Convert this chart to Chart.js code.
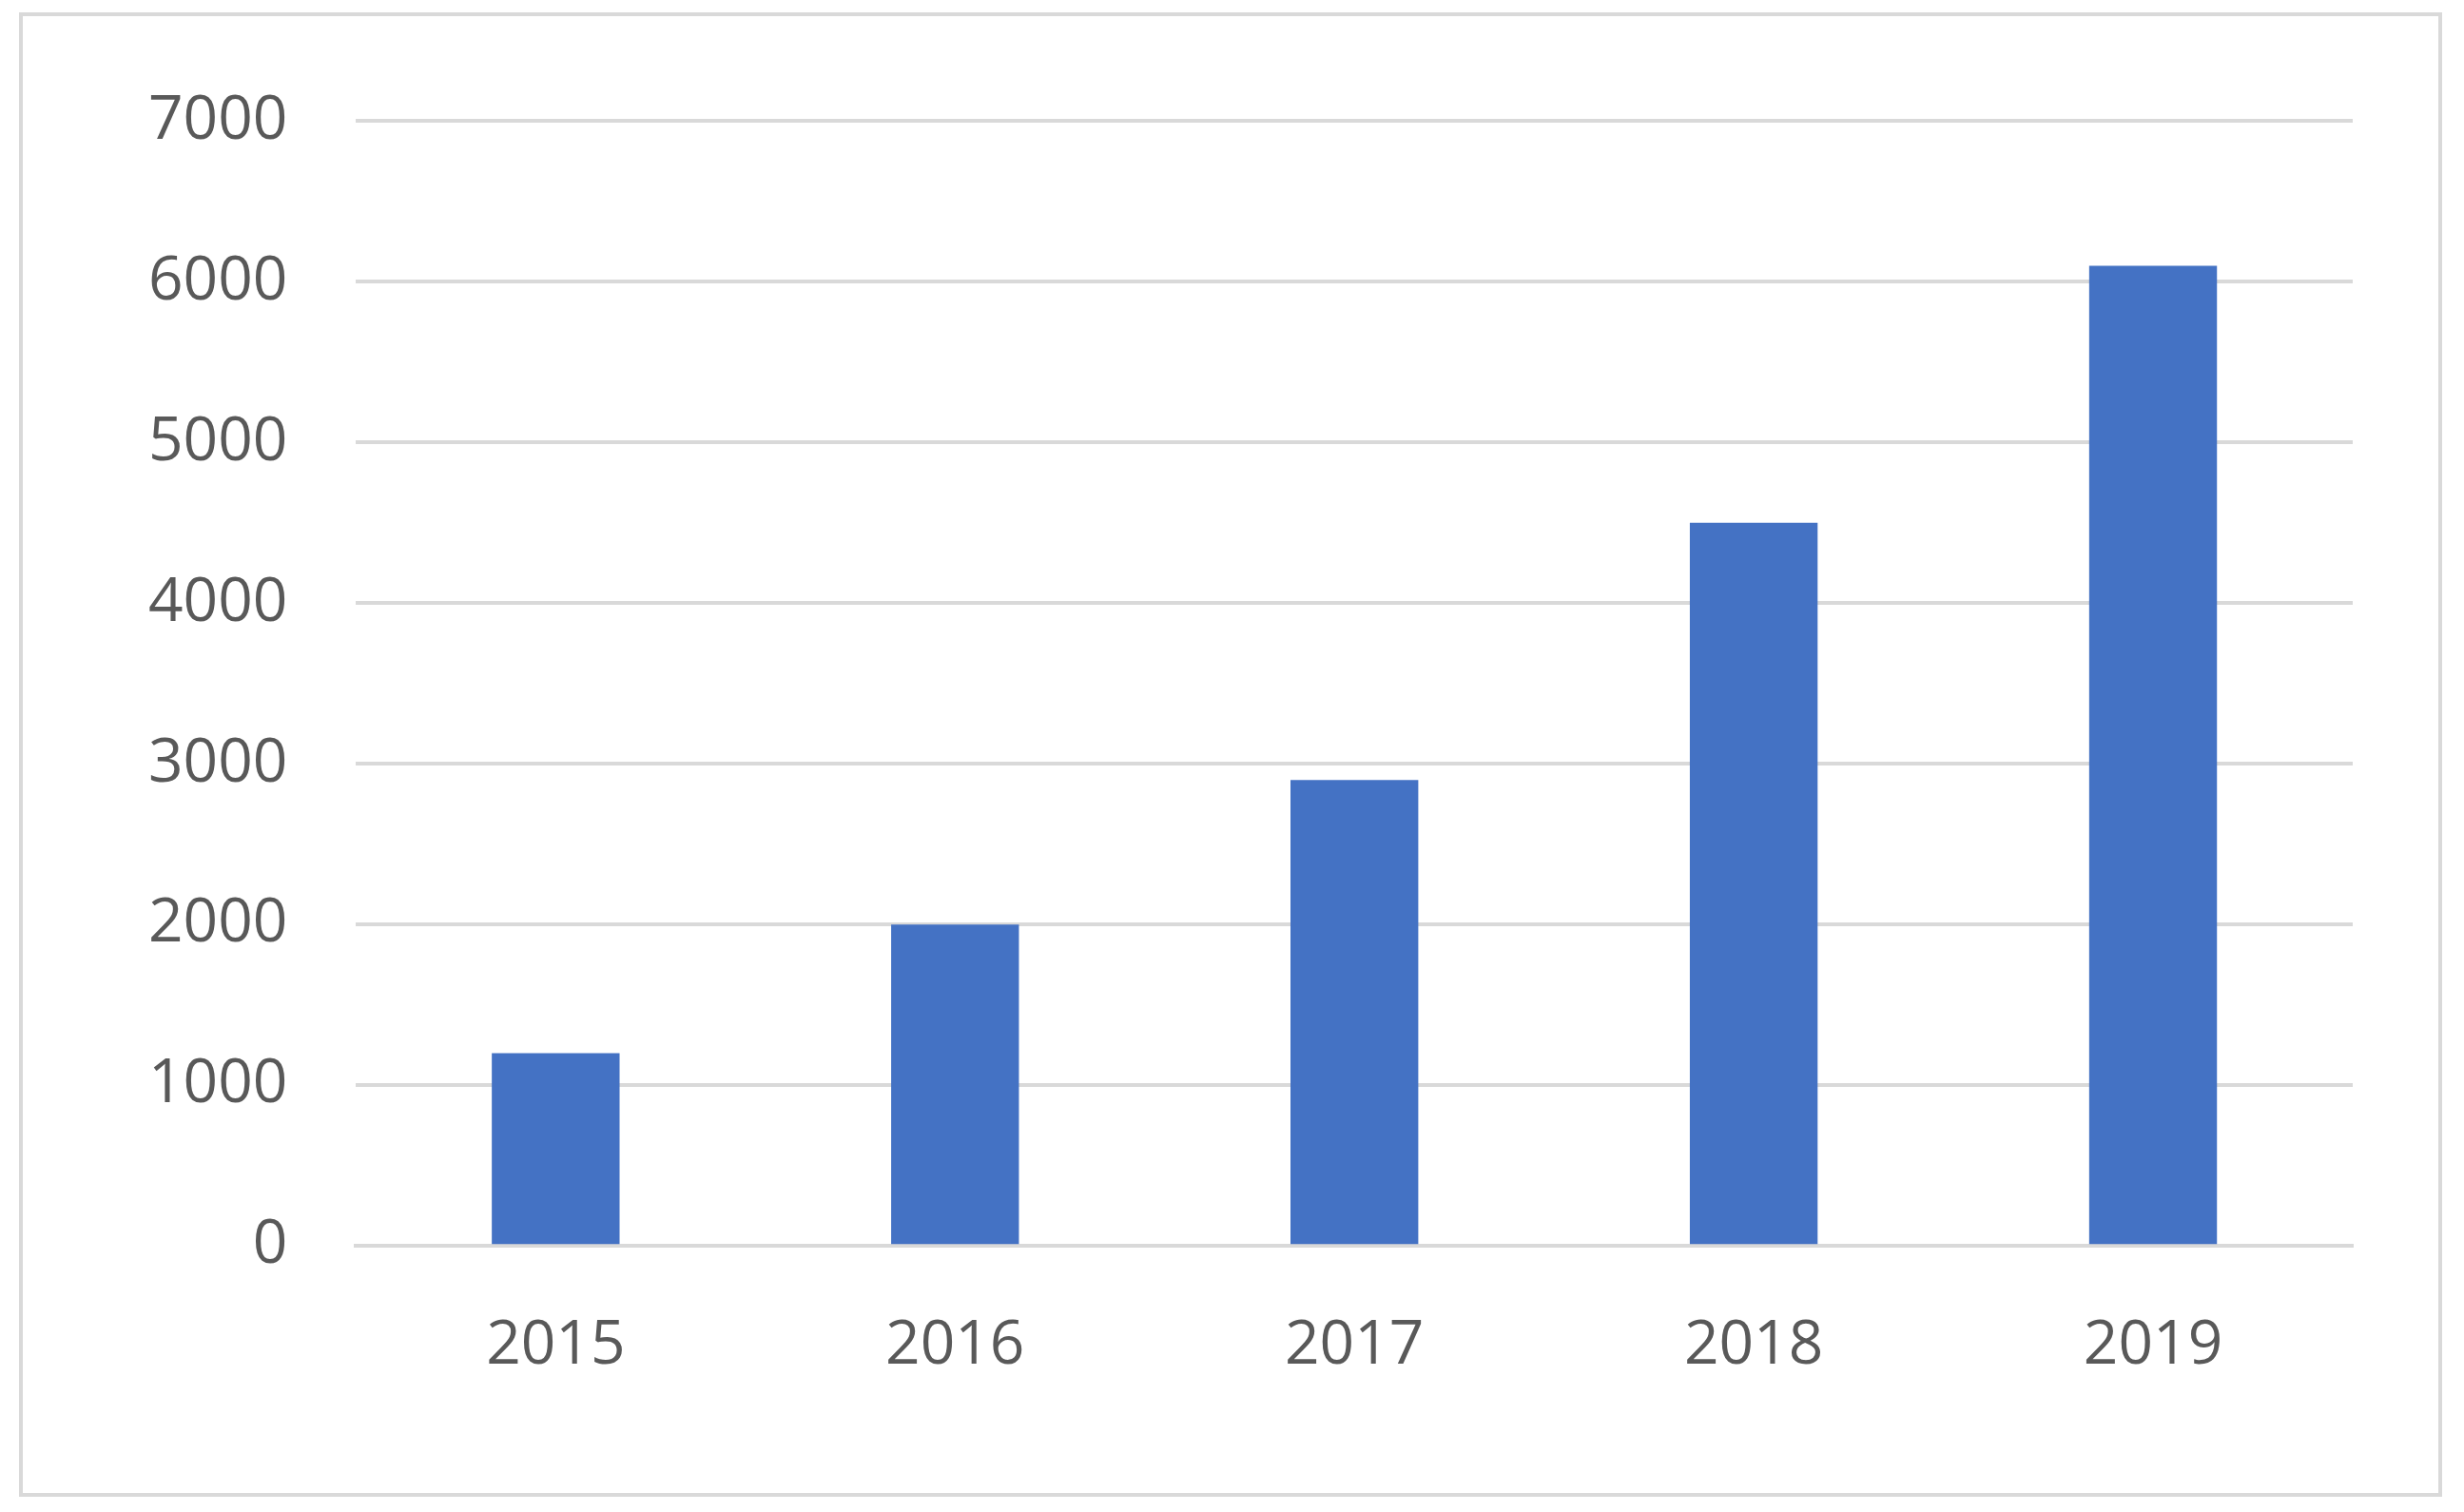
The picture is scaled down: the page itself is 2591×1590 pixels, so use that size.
<!DOCTYPE html>
<html>
<head>
<meta charset="utf-8">
<script src="https://cdn.jsdelivr.net/npm/chart.js@4/dist/chart.umd.min.js"></script>
<style>
  body { margin: 0; background: #fff; }
  #box { position: absolute; left: 20px; top: 13px; width: 2540px; height: 1553px;
         border: 4px solid #d9d9d9; box-sizing: content-box; }
  #wrap { position: absolute; left: 0; top: 0; width: 2540px; height: 1553px; }
</style>
</head>
<body>
<div id="box"><div id="wrap"><canvas id="chart"></canvas></div></div>
<script>
// years and values
var years = ['2015', '2016', '2017', '2018', '2019'];
var values = [1200, 2000, 2900, 4500, 6100];

new Chart('chart', {
  type: 'bar',
  data: {
    labels: years,
    datasets: [{
      data: values,
      backgroundColor: '#4472c4',
      categoryPercentage: 1,
      barPercentage: 0.32
    }]
  },
  options: {
    responsive: true,
    maintainAspectRatio: false,
    animation: false,
    layout: { padding: { left: 60, right: 90, top: 48, bottom: 57 } },
    plugins: { legend: { display: false }, tooltip: { enabled: false } },
    scales: {
      x: {
        grid: { display: false },
        border: { color: '#d9d9d9', width: 4 },
        ticks: { color: '#595959', font: { family: 'Open Sans', size: 64 }, padding: 59 }
      },
      y: {
        min: 0, max: 7000,
        ticks: { stepSize: 1000, color: '#595959', font: { family: 'Open Sans', size: 64 }, padding: 72,
                 callback: function (v) { return String(v); } },
        grid: { color: '#d9d9d9', lineWidth: 4, drawTicks: false },
        border: { display: false }
      }
    }
  }
});
</script>
</body>
</html>
